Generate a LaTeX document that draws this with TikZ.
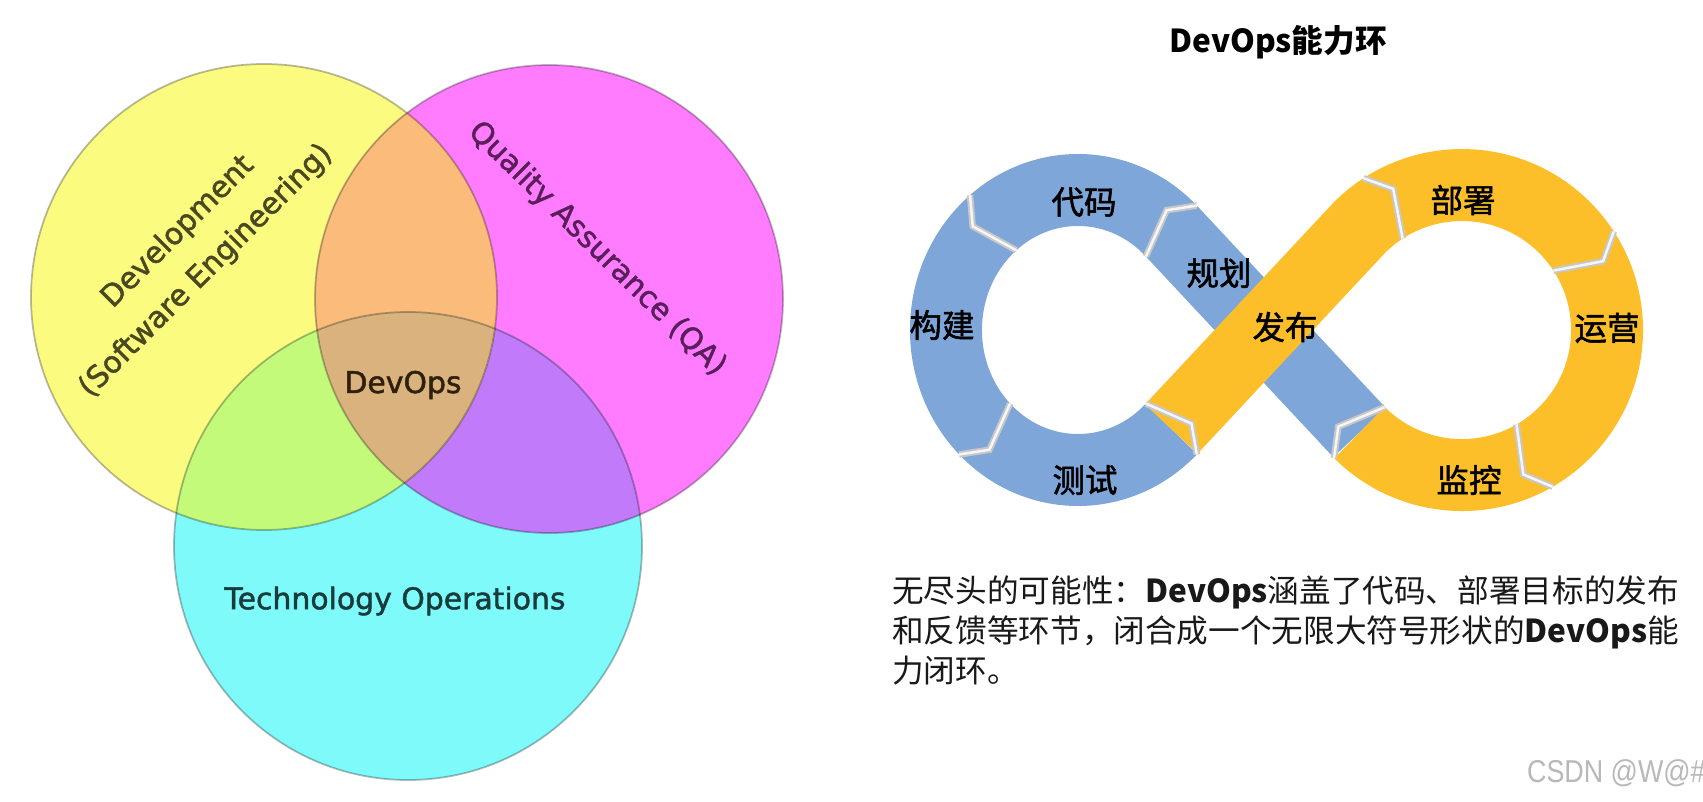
\documentclass[tikz,border=0pt]{standalone}
\usepackage{fontspec}
\newfontfamily\vennfont[FakeBold=1.6]{DejaVu Sans}
\newfontfamily\cjkfont{Noto Sans CJK SC}
\newfontfamily\cjkheavy[FakeBold=1.6]{Noto Sans CJK SC}
\newfontfamily\markfont{Liberation Sans}
\definecolor{venny}{HTML}{FBFB80}
\definecolor{vennm}{HTML}{FF7BFF}
\definecolor{vennc}{HTML}{7FFAFA}
\definecolor{vennym}{HTML}{FBBB7B}
\definecolor{vennyc}{HTML}{C3FA7A}
\definecolor{vennmc}{HTML}{C07AFA}
\definecolor{vennymc}{HTML}{D9B27E}
\definecolor{devcol}{HTML}{4A4820}
\definecolor{qacol}{HTML}{5A1E5A}
\definecolor{dvcol}{HTML}{2E200A}
\definecolor{tocol}{HTML}{183C3C}
\definecolor{infblue}{HTML}{7EA6D9}
\definecolor{infyellow}{HTML}{FCBF2A}
\newcommand{\infjoint}[6]{%
  \draw[jointshadow] ({#1+(#3-36)*cos(#5)},{#2-(#4-36)*sin(#5)})
     -- ({#1+(#3+12)*cos(#5+7*(#6))},{#2-(#4+12)*sin(#5+7*(#6))})
     -- ({#1+(#3+36)*cos(#5)},{#2-(#4+36)*sin(#5)});
  \draw[jointhl] ({#1+(#3-36)*cos(#5)},{#2-(#4-36)*sin(#5)})
     -- ({#1+(#3+12)*cos(#5+7*(#6))},{#2-(#4+12)*sin(#5+7*(#6))})
     -- ({#1+(#3+36)*cos(#5)},{#2-(#4+36)*sin(#5)});
}
\begin{document}
\begin{tikzpicture}[x=0.02cm,y=-0.02cm,
  vennline/.style={draw=black, draw opacity=0.28, line width=0.035cm},
  vennlab/.style={font=\vennfont\fontsize{17}{20}\selectfont, inner sep=0pt},
  blueband/.style={draw=infblue, line width=1.44cm},
  yellowband/.style={draw=infyellow, line width=1.44cm},
  jointshadow/.style={draw=black!22, line width=0.13cm, line join=miter},
  jointhl/.style={draw=white!96!black, line width=0.05cm, line join=miter},
  looplab/.style={font=\cjkheavy\fontsize{18.5}{20}\selectfont, text=black, inner sep=0pt},
  paraline/.style={font=\cjkfont\fontsize{18}{22}\selectfont, text=black!90, anchor=base west, inner sep=0pt}]
\useasboundingbox (0,0) rectangle (1703,801);
\fill[white] (0,0) rectangle (1703,801);

% ---------- Venn diagram ----------
\coordinate (cy) at (264,297);
\coordinate (cm) at (549,299);
\coordinate (cc) at (408,546);
\fill[venny] (cy) circle[radius=233];
\fill[vennm] (cm) circle[radius=234];
\fill[vennc] (cc) circle[radius=234];
\begin{scope}
  \clip (cm) circle[radius=234];
  \fill[vennmc] (cc) circle[radius=234];
\end{scope}
\begin{scope}
  \clip (cy) circle[radius=233];
  \fill[vennym] (cm) circle[radius=234];
  \fill[vennyc] (cc) circle[radius=234];
  \clip (cm) circle[radius=234];
  \fill[vennymc] (cc) circle[radius=234];
\end{scope}
\draw[vennline] (cy) circle[radius=233];
\draw[vennline] (cm) circle[radius=234];
\draw[vennline] (cc) circle[radius=234];

\node[vennlab, rotate=45, text=devcol] (dev1) at (178,232) {Development};
\node[vennlab, rotate=45, text=devcol] (dev2) at (206,271) {(Software Engineering)};
\node[vennlab, rotate=-44.5, text=qacol] (qa) at (597,249) {Quality Assurance (QA)};
\node[vennlab, text=dvcol] (devops) at (403,385) {DevOps};
\node[vennlab, text=tocol] (tech) at (395,601) {Technology Operations};

% ---------- DevOps infinity loop ----------
\node[font=\cjkfont\bfseries\fontsize{18}{22}\selectfont, inner sep=0pt] (title) at (1278,42) {DevOps能力环};

\draw[blueband] (1359.5,432.5) -- (1171.3,231.0)
   arc[start angle=-45, end angle=-315, x radius=132, y radius=140];
\draw[yellowband] (1171.3,429.0) -- (1359.5,227.5)
   arc[start angle=-135, end angle=135, radius=145];

% joints (left loop: downstream = increasing angle; right loop: decreasing)
\infjoint{1078}{330}{132}{140}{45}{1}
\infjoint{1078}{330}{132}{140}{130}{1}
\infjoint{1078}{330}{132}{140}{225}{1}
\infjoint{1078}{330}{132}{140}{315}{1}
\infjoint{1462}{330}{145}{145}{123}{-1}
\infjoint{1462}{330}{145}{145}{33}{-1}
\infjoint{1462}{330}{145}{145}{-60}{-1}
\infjoint{1462}{330}{145}{145}{-135}{-1}

\node[looplab] (code) at (1084,202) {代码};
\node[looplab] (plan) at (1219,273) {规划};
\node[looplab] (build) at (942,325) {构建};
\node[looplab] (release) at (1285,327) {发布};
\node[looplab] (test) at (1085,480) {测试};
\node[looplab] (deploy) at (1463,200) {部署};
\node[looplab] (operate) at (1607,328) {运营};
\node[looplab] (monitor) at (1469,480) {监控};

\node[paraline] (para1) at (892,602) {无尽头的可能性：{\bfseries DevOps}涵盖了代码、部署目标的发布};
\node[paraline] (para2) at (892,642) {和反馈等环节，闭合成一个无限大符号形状的{\bfseries DevOps}能};
\node[paraline] (para3) at (892,682) {力闭环。};

\node[font=\markfont\fontsize{18}{20}\selectfont, text=black!28, anchor=base east, inner sep=0pt] (csdn) at (1706,782) {\scalebox{0.85}[1]{CSDN @W@\#}};
\end{tikzpicture}
\end{document}
